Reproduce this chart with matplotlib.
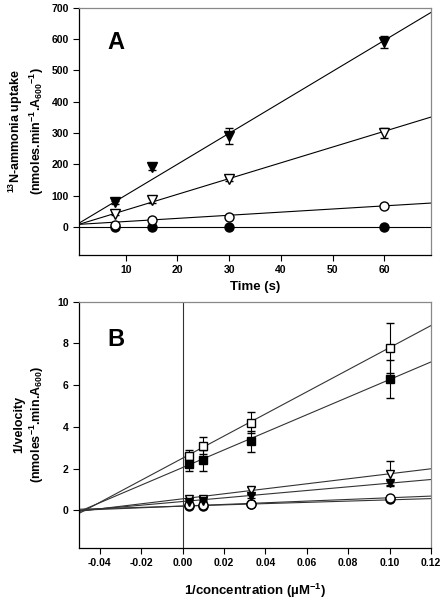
import numpy as np
import matplotlib
matplotlib.use("Agg")
import matplotlib.pyplot as plt

plt.rcParams['font.family'] = ['Liberation Sans', 'DejaVu Sans']
plt.rcParams['font.weight'] = 'bold'
plt.rcParams['mathtext.fontset'] = 'custom'
plt.rcParams['mathtext.rm'] = 'Liberation Sans:bold'
plt.rcParams['mathtext.bf'] = 'Liberation Sans:bold'
plt.rcParams['mathtext.default'] = 'bf'

# panel A: uptake vs time
time_s = [8, 15, 30, 60]
up_filled_tri = [78, 190, 290, 590]
up_filled_tri_err = [6, 8, 25, 20]
up_open_tri = [42, 85, 152, 300]
up_open_tri_err = [5, 8, 6, 15]
up_open_circ = [5, 22, 32, 67]
up_filled_circ = [-2, 0, 0, 0]
# fitted lines (slope, intercept)
fit_a = {'filled_tri': (9.9, 2), 'open_tri': (5.04, 3), 'open_circ': (1.0, 7), 'filled_circ': (0.0, 0)}

# panel B: double reciprocal
inv_conc = [0.0033, 0.01, 0.033, 0.1]
v_open_sq = [2.6, 3.1, 4.2, 7.8]
v_open_sq_err = [0.3, 0.4, 0.5, 1.2]
v_filled_sq = [2.2, 2.4, 3.3, 6.3]
v_filled_sq_err = [0.3, 0.5, 0.5, 0.9]
v_open_tri = [0.55, 0.55, 0.95, 1.75]
v_open_tri_err = [0.05, 0.1, 0.15, 0.6]
v_filled_tri = [0.4, 0.45, 0.7, 1.3]
v_filled_tri_err = [0.05, 0.05, 0.1, 0.1]
v_open_circ = [0.25, 0.25, 0.3, 0.6]
v_filled_circ = [0.2, 0.22, 0.3, 0.55]
fit_b = {'open_sq': (53.0, 2.5), 'filled_sq': (42.2, 2.05), 'open_tri': (12.0, 0.55),
         'filled_tri': (8.8, 0.42), 'open_circ': (4.0, 0.2), 'filled_circ': (3.0, 0.2)}

fig = plt.figure(figsize=(4.42, 6.0), dpi=100)
axA = fig.add_axes([0.179, 0.575, 0.796, 0.412])
axB = fig.add_axes([0.179, 0.087, 0.796, 0.41])

ms = 6.5
# --- panel A
xl = np.array([1, 69])
for k in fit_a:
    m, b = fit_a[k]
    axA.plot(xl, m * xl + b, color='black', lw=0.8, zorder=1)
axA.errorbar(time_s, up_filled_tri, yerr=up_filled_tri_err, fmt='v', color='black', mfc='black',
             ms=ms, capsize=3, elinewidth=0.8, zorder=3)
axA.errorbar(time_s, up_open_tri, yerr=up_open_tri_err, fmt='v', color='black', mfc='white',
             ms=ms, capsize=3, elinewidth=0.8, zorder=3)
axA.plot(time_s, up_filled_circ, 'o', color='black', mfc='black', ms=ms, zorder=3)
axA.plot(time_s, up_open_circ, 'o', color='black', mfc='white', ms=ms, zorder=3)
axA.set_xlim(1, 69)
axA.set_ylim(-90, 700)
axA.set_xticks([10, 20, 30, 40, 50, 60])
axA.set_yticks(range(0, 701, 100))
axA.set_xlabel('Time (s)', fontsize=9.5, fontweight='bold')
axA.set_ylabel('$^{13}$N-ammonia uptake\n(nmoles.min$^{-1}$.A$_{600}$$^{-1}$)', fontsize=9,
               fontweight='bold', labelpad=4)
axA.text(0.08, 0.86, 'A', transform=axA.transAxes, fontsize=17, fontweight='bold',
         ha='left', va='center')

# --- panel B
xb = np.array([-0.05, 0.12])
for k in fit_b:
    m, b = fit_b[k]
    axB.plot(xb, m * xb + b, color='#333333', lw=0.8, zorder=1)
axB.axvline(0, color='#333333', lw=0.8, zorder=1)
for y, e, mk, fc in [(v_open_sq, v_open_sq_err, 's', 'white'),
                     (v_filled_sq, v_filled_sq_err, 's', 'black'),
                     (v_open_tri, v_open_tri_err, 'v', 'white'),
                     (v_filled_tri, v_filled_tri_err, 'v', 'black')]:
    axB.errorbar(inv_conc, y, yerr=e, fmt=mk, color='black', mfc=fc, ms=ms - 0.5,
                 capsize=3, elinewidth=0.8, zorder=3)
axB.plot(inv_conc, v_filled_circ, 'o', color='black', mfc='black', ms=ms, zorder=3)
axB.plot(inv_conc, v_open_circ, 'o', color='black', mfc='white', ms=ms, zorder=3)
axB.set_xlim(-0.05, 0.12)
axB.set_ylim(-1.8, 10)
axB.set_xticks(np.arange(-0.04, 0.121, 0.02))
axB.set_xticklabels(['%.2f' % v for v in np.arange(-0.04, 0.121, 0.02)])
axB.set_yticks([0, 2, 4, 6, 8, 10])
axB.set_xlabel('1/concentration (µM$^{-1}$)', fontsize=9.5, fontweight='bold', labelpad=10)
axB.set_ylabel('1/velocity\n(nmoles$^{-1}$.min.A$_{600}$)', fontsize=9, fontweight='bold',
               labelpad=8)
axB.text(0.08, 0.845, 'B', transform=axB.transAxes, fontsize=17, fontweight='bold',
         ha='left', va='center')

for ax in (axA, axB):
    ax.tick_params(direction='out', length=4, width=0.8, labelsize=7.5, top=False, right=False)
    for lab in ax.get_xticklabels() + ax.get_yticklabels():
        lab.set_fontweight('bold')
    for s in ax.spines.values():
        s.set_linewidth(0.9)
    for s in ('top', 'right'):
        ax.spines[s].set_color('#888888')

fig.savefig('out.png', dpi=100)
